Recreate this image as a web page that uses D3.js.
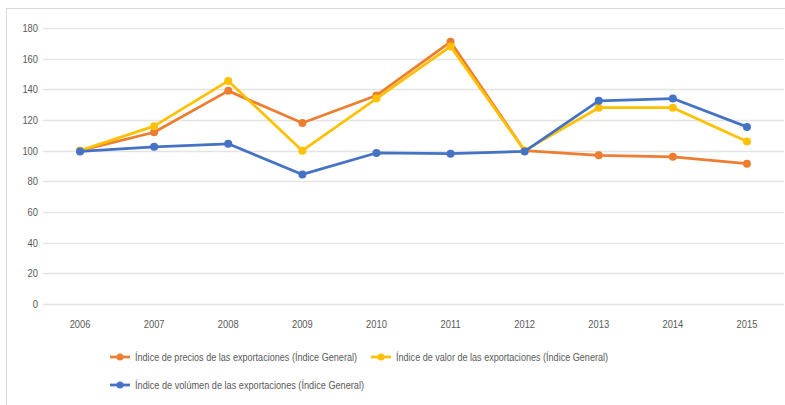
<!DOCTYPE html>
<html><head><meta charset="utf-8">
<script src="https://cdn.jsdelivr.net/npm/d3@7"></script>
<style>
body{margin:0;background:#fff;}
svg text{font-family:"Liberation Sans Narrow","Arial Narrow","Liberation Sans",sans-serif;}
</style></head>
<body><svg id="c" width="785" height="405"></svg>
<script>
const years = ["2006","2007","2008","2009","2010","2011","2012","2013","2014","2015"];
const precios = [100,112,139,118,136,171,100,97,96,91.5];
const valor = [100,116,145.5,100,134,168,100,128,128,106];
const volumen = [99.5,102.5,104.5,84.5,98.5,98,99.5,132.5,134,115.5];
const yTicks = [0,20,40,60,80,100,120,140,160,180];
const seriesNames = ["Índice de precios de las exportaciones (Índice General)","Índice de valor de las exportaciones (Índice General)","Índice de volúmen de las exportaciones (Índice General)"];
const seriesColors = ["#ED7D31","#FFC000","#4472C4"];

const svg = d3.select("#c");
svg.append("rect").attr("x",6.5).attr("y",8.5).attr("width",790).attr("height",410)
  .attr("fill","#fff").attr("stroke","#d9d9d9").attr("stroke-width",1);

const x = d3.scaleBand().domain(years).range([43,784]);
const y = d3.scaleLinear().domain([0,180]).range([304,28]);

const grid = svg.append("g");
grid.selectAll("line").data(yTicks).join("line")
  .attr("x1",43).attr("x2",784).attr("y1",d=>Math.round(y(d))+0.5).attr("y2",d=>Math.round(y(d))+0.5)
  .attr("stroke","#e3e3e3").attr("stroke-width",1.5);

const yAxis = svg.append("g").attr("transform","translate(38,0)")
  .call(d3.axisLeft(y).tickValues(yTicks).tickSize(0).tickPadding(0));
yAxis.select(".domain").remove();
yAxis.selectAll("text").attr("fill","#595959").attr("font-size",11)
  .attr("textLength",function(){return this.getComputedTextLength()*0.85;}).attr("lengthAdjust","spacingAndGlyphs");

const xAxis = svg.append("g").attr("transform","translate(0,304)")
  .call(d3.axisBottom(x).tickSize(0).tickPadding(16));
xAxis.select(".domain").remove();
xAxis.selectAll("text").attr("fill","#595959").attr("font-size",11)
  .attr("textLength",function(){return this.getComputedTextLength()*0.85;}).attr("lengthAdjust","spacingAndGlyphs");

const series = [precios, valor, volumen];
const line = d3.line().x((d,i)=>x(years[i])+x.bandwidth()/2).y(d=>y(d));
series.forEach((s,k)=>{
  const g = svg.append("g");
  g.append("path").datum(s).attr("d",line).attr("fill","none")
    .attr("stroke",seriesColors[k]).attr("stroke-width",2.75).attr("stroke-linejoin","round");
  g.selectAll("circle").data(s).join("circle")
    .attr("cx",(d,i)=>x(years[i])+x.bandwidth()/2).attr("cy",d=>y(d)).attr("r",4)
    .attr("fill",seriesColors[k]);
});

// legend
const legPos = [[110,357,222],[371,357,212],[110,385,229]];
seriesNames.forEach((n,k)=>{
  const [lx,ly,tl] = legPos[k];
  const g = svg.append("g");
  g.append("line").attr("x1",lx).attr("x2",lx+20).attr("y1",ly).attr("y2",ly)
    .attr("stroke",seriesColors[k]).attr("stroke-width",2.75);
  g.append("circle").attr("cx",lx+10).attr("cy",ly).attr("r",3.5).attr("fill",seriesColors[k]);
  g.append("text").attr("x",lx+25).attr("y",ly+4).attr("font-size",11).attr("fill","#595959")
    .attr("textLength",tl).attr("lengthAdjust","spacingAndGlyphs").text(n);
});
</script></body></html>
